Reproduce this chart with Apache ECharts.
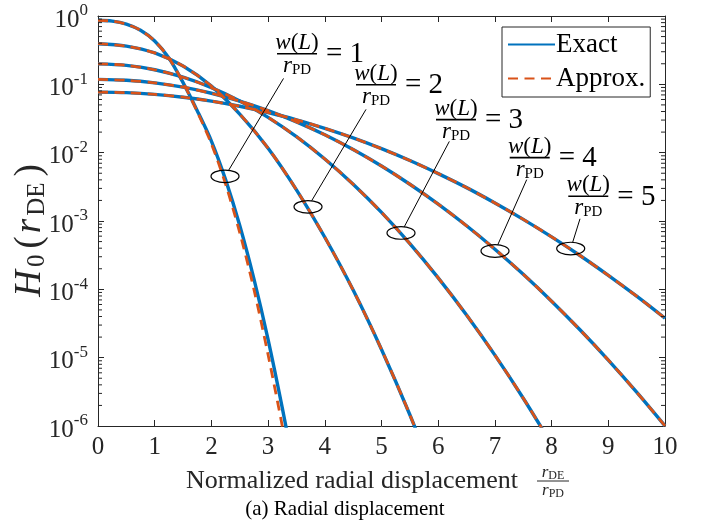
<!DOCTYPE html>
<html><head><meta charset="utf-8">
<script src="https://cdn.jsdelivr.net/npm/echarts@6/dist/echarts.min.js"></script>
<style>html,body{margin:0;padding:0;background:#fff}#c{width:706px;height:523px}</style>
</head><body><div id="c"></div>
<script>
// ---------------- data ----------------
const xTicks = [0,1,2,3,4,5,6,7,8,9,10];
const yTicks = [1e-6,1e-5,1e-4,1e-3,1e-2,1e-1,1];
// w(L)/r_PD = 1 (finer sampling)
const r1 = [0,0.25,0.5,0.75,1,1.25,1.5,1.75,2,2.25,2.5,2.75,3,3.25,3.5];
const exact1  = [0.865,0.841,0.759,0.617,0.432,0.243,0.106,0.0412,0.01479,4.03e-3,8.57e-4,1.419e-4,1.832e-5,1.84e-6,1.58e-7];
const approx1 = [0.865,0.841,0.759,0.617,0.432,0.243,0.106,0.0398,0.01349,3.47e-3,6.76e-4,1.0e-4,1.10e-5,1.0e-6,7.9e-8];
// common grid for w(L)/r_PD = 2..5
const rGrid = [0,0.5,1,1.5,2,2.5,3,3.5,4,4.5,5,5.5,6,6.5,7,7.5,8,8.5,9,9.5,10];
const exact2 = [0.393,0.363,0.288,0.185,0.0942,0.0366,0.0116,2.86e-3,5.78e-4,9.75e-5,1.32e-5,1.46e-6,1.3e-7];
const approx2 = [0.393,0.363,0.288,0.185,0.0942,0.0366,0.0116,2.86e-3,5.78e-4,9.75e-5,1.32e-5,1.46e-6,1.3e-7];
const exact3 = [0.1995,0.1897,0.1633,0.1271,0.0895,0.0570,0.0329,0.01714,8.09e-3,3.45e-3,1.334e-3,4.66e-4,1.472e-4,4.21e-5,1.089e-5,2.55e-6,5.4e-7];
const approx3 = [0.1995,0.1897,0.1633,0.1271,0.0895,0.0570,0.0329,0.01714,8.09e-3,3.45e-3,1.334e-3,4.66e-4,1.472e-4,4.21e-5,1.089e-5,2.55e-6,5.4e-7];
const exact4 = [0.118,0.1146,0.1050,0.0908,0.0740,0.0569,0.0413,0.02825,0.01824,0.01109,6.37e-3,3.45e-3,1.766e-3,8.51e-4,3.87e-4,1.66e-4,6.71e-5,2.56e-5,9.23e-6,3.13e-6,1.005e-6];
const approx4 = [0.118,0.1146,0.1050,0.0908,0.0740,0.0569,0.0413,0.02825,0.01824,0.01109,6.37e-3,3.45e-3,1.766e-3,8.51e-4,3.87e-4,1.66e-4,6.71e-5,2.56e-5,9.23e-6,3.13e-6,1.005e-6];
const exact5 = [0.0769,0.0755,0.0713,0.0648,0.0568,0.0478,0.0387,0.0303,0.0227,0.01644,0.01143,7.67e-3,4.94e-3,3.08e-3,1.837e-3,1.057e-3,5.86e-4,3.13e-4,1.603e-4,7.93e-5,3.77e-5];
const approx5 = [0.0769,0.0755,0.0713,0.0648,0.0568,0.0478,0.0387,0.0303,0.0227,0.01644,0.01143,7.67e-3,4.94e-3,3.08e-3,1.837e-3,1.057e-3,5.86e-4,3.13e-4,1.603e-4,7.93e-5,3.77e-5];
// annotations: ellipse on curve, leader-line top, label anchor (data coordinates)
const annotN = ['1','2','3','4','5'];
const annotR = [2.24,3.704,5.344,7.002,8.337];
const annotH = [4.5e-3,1.61e-3,6.68e-4,3.64e-4,3.95e-4];
const leadR = [3.272,4.727,6.196,7.561,8.501];
const leadH = [0.122,0.0430,0.01462,4.03e-3,1.077e-3];
const labelR = [3.51,4.903,6.314,7.614,8.647];
const labelH = [0.280,0.0986,0.0304,8.45e-3,2.30e-3];
const minorFactors = [2,3,4,5,6,7,8,9];

// ---------------- chart ----------------
const FONT = 'Liberation Serif';
const INK = '#262626';
const BLUE = '#0072BD', ORANGE = '#D95319';
const pairs = (xs, ys) => ys.map((v, i) => [xs[i], v]);

const exactSets = [pairs(r1, exact1), pairs(rGrid, exact2), pairs(rGrid, exact3), pairs(rGrid, exact4), pairs(rGrid, exact5)];
const approxSets = [pairs(r1, approx1), pairs(rGrid, approx2), pairs(rGrid, approx3), pairs(rGrid, approx4), pairs(rGrid, approx5)];

const series = [];
exactSets.forEach(d => series.push({
  name: 'Exact', type: 'line', data: d, symbol: 'none', smooth: 0.3, z: 2,
  lineStyle: { color: BLUE, width: 3.4 }, itemStyle: { color: BLUE }
}));
approxSets.forEach(d => series.push({
  name: 'Approx.', type: 'line', data: d, symbol: 'none', smooth: 0.3, z: 3,
  lineStyle: { color: ORANGE, width: 2.8, type: [10, 6.5] }, itemStyle: { color: ORANGE }
}));

// minor log ticks on left & right
const minorData = [];
for (let e = -6; e < 0; e++) minorFactors.forEach(k => minorData.push([0, k * Math.pow(10, e)]));
series.push({
  type: 'custom', silent: true, z: 5, data: minorData,
  renderItem: (p, api) => {
    const a = api.coord([0, api.value(1)]);
    const b = api.coord([10, api.value(1)]);
    return { type: 'group', children: [
      { type: 'line', shape: { x1: a[0], y1: a[1], x2: a[0] + 4, y2: a[1] }, style: { stroke: INK, lineWidth: 1 } },
      { type: 'line', shape: { x1: b[0] - 4, y1: b[1], x2: b[0], y2: b[1] }, style: { stroke: INK, lineWidth: 1 } }
    ] };
  }
});

const fracRich = {
  i: { fontFamily: FONT, fontStyle: 'italic', fontSize: 23, fill: '#000' },
  n: { fontFamily: FONT, fontSize: 23, fill: '#000' },
  s: { fontFamily: FONT, fontSize: 15, fill: '#000', padding: [8, 0, 0, 0] }
};
series.push({
  type: 'custom', silent: true, z: 6,
  data: annotR.map((r, i) => [r, annotH[i], i]),
  renderItem: (p, api) => {
    const i = api.value(2);
    const c = api.coord([api.value(0), api.value(1)]);
    const t = api.coord([leadR[i], leadH[i]]);
    const b = api.coord([labelR[i], labelH[i]]);
    const rx = 14, ry = 6.3;
    const dx = t[0] - c[0], dy = t[1] - c[1];
    const s = 1 / Math.sqrt((dx / rx) ** 2 + (dy / ry) ** 2);
    const e = [c[0] + dx * s, c[1] + dy * s];
    return { type: 'group', children: [
      { type: 'ellipse', shape: { cx: c[0], cy: c[1], rx: rx, ry: ry }, style: { fill: null, stroke: '#000', lineWidth: 1.2 } },
      { type: 'line', shape: { x1: e[0], y1: e[1], x2: t[0], y2: t[1] }, style: { stroke: '#000', lineWidth: 1 } },
      { type: 'line', shape: { x1: b[0] - 20, y1: b[1], x2: b[0] + 20, y2: b[1] }, style: { stroke: '#000', lineWidth: 1.6 } },
      { type: 'text', x: b[0], y: b[1] - 11, style: { text: '{i|w}{n|(}{i|L}{n|)}', rich: fracRich, align: 'center', verticalAlign: 'middle' } },
      { type: 'text', x: b[0], y: b[1] + 12, style: { text: '{i|r}{s|PD}', rich: fracRich, align: 'center', verticalAlign: 'middle' } },
      { type: 'text', x: b[0] + 29, y: b[1] + 1, style: { text: '= ' + annotN[i], fontFamily: FONT, fontSize: 29, fill: '#000', align: 'left', verticalAlign: 'middle' } }
    ] };
  }
});

const chart = echarts.init(document.getElementById('c'), null, { renderer: 'canvas' });
const xAxisBase = { type: 'value', min: xTicks[0], max: xTicks[xTicks.length - 1], interval: 1,
  axisLine: { show: true, onZero: false, lineStyle: { color: INK, width: 1 } },
  axisTick: { show: true, inside: true, length: 6, lineStyle: { color: INK } },
  splitLine: { show: false } };
const yAxisBase = { type: 'log', logBase: 10, min: yTicks[0], max: yTicks[yTicks.length - 1], interval: 1,
  axisLine: { show: true, onZero: false, lineStyle: { color: INK, width: 1 } },
  axisTick: { show: true, inside: true, length: 6, lineStyle: { color: INK } },
  splitLine: { show: false }, minorTick: { show: false } };

chart.setOption({
  animation: false,
  backgroundColor: '#fff',
  grid: { left: 98, right: 41, top: 16, bottom: 97, containLabel: false },
  xAxis: [
    Object.assign({}, xAxisBase, { position: 'bottom',
      axisLabel: { color: INK, fontFamily: FONT, fontSize: 25, margin: 9 } }),
    Object.assign({}, xAxisBase, { position: 'top', axisLabel: { show: false } })
  ],
  yAxis: [
    Object.assign({}, yAxisBase, { position: 'left',
      axisLabel: { margin: 10, color: INK,
        formatter: v => '{b|10}{s|' + Math.round(Math.log10(v)) + '}',
        rich: {
          b: { fontFamily: FONT, fontSize: 25, color: INK, padding: [8, 0, 0, 0] },
          s: { fontFamily: FONT, fontSize: 17, color: INK, padding: [0, 0, 10, 0] }
        } } }),
    Object.assign({}, yAxisBase, { position: 'right', axisLabel: { show: false } })
  ],
  legend: {
    orient: 'vertical', left: 502, top: 27,
    data: ['Exact', 'Approx.'],
    itemWidth: 47, itemHeight: 14, itemGap: 7,
    padding: [4, 5, 5, 5],
    backgroundColor: '#fff', borderColor: INK, borderWidth: 1,
    itemStyle: { opacity: 0 },
    textStyle: { fontFamily: FONT, fontSize: 27, color: '#000', padding: [0, 0, 0, -4] },
    selectedMode: false
  },
  graphic: [
    { type: 'text', x: 30, y: 229, rotation: Math.PI / 2,
      style: { text: '{i|H}{s|0}{n|(}{i|r}{s|DE}{n|)}', align: 'center', verticalAlign: 'middle',
        rich: {
          i: { fontFamily: FONT, fontStyle: 'italic', fontSize: 37, fill: INK, padding: [0, 2, 0, 0] },
          n: { fontFamily: FONT, fontSize: 37, fill: INK, padding: [0, 3, 0, 3] },
          s: { fontFamily: FONT, fontSize: 25, fill: INK, padding: [15, 3, 0, 1] }
        } } },
    { type: 'text', x: 186, y: 481,
      style: { text: 'Normalized radial displacement', fontFamily: FONT, fontSize: 26, fill: INK, align: 'left', verticalAlign: 'middle' } },
    { type: 'text', x: 553, y: 473,
      style: { text: '{i|r}{s|DE}', align: 'center', verticalAlign: 'middle',
        rich: { i: { fontFamily: FONT, fontStyle: 'italic', fontSize: 17, fill: INK }, s: { fontFamily: FONT, fontSize: 12, fill: INK, padding: [6, 0, 0, 0] } } } },
    { type: 'line', shape: { x1: 537, y1: 481, x2: 569, y2: 481 }, style: { stroke: INK, lineWidth: 1 } },
    { type: 'text', x: 553, y: 491,
      style: { text: '{i|r}{s|PD}', align: 'center', verticalAlign: 'middle',
        rich: { i: { fontFamily: FONT, fontStyle: 'italic', fontSize: 17, fill: INK }, s: { fontFamily: FONT, fontSize: 12, fill: INK, padding: [6, 0, 0, 0] } } } },
    { type: 'text', x: 345, y: 509,
      style: { text: '(a) Radial displacement', fontFamily: FONT, fontSize: 21, fill: '#000', align: 'center', verticalAlign: 'middle' } }
  ],
  series: series
});
</script></body></html>
